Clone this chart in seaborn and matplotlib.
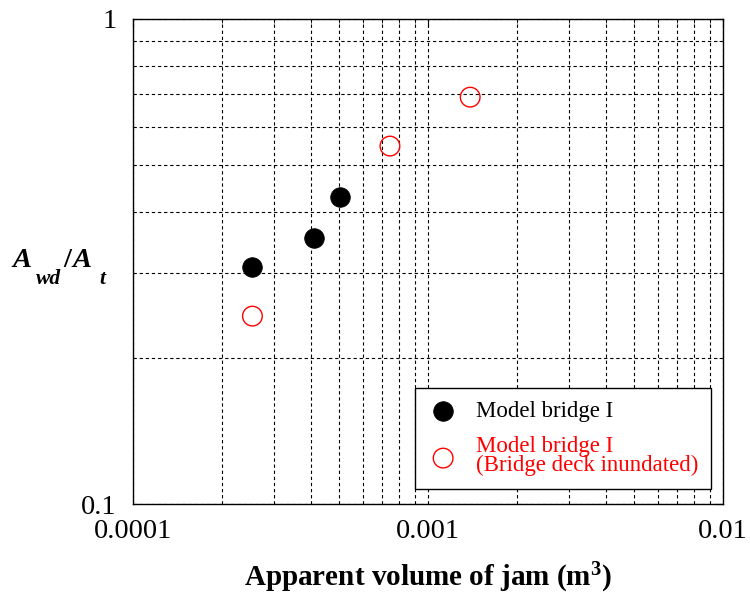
import matplotlib
matplotlib.use("Agg")
import matplotlib.pyplot as plt
import matplotlib.ticker as mticker
import seaborn as sns
import pandas as pd

# Data
black_x = [2.54e-4, 4.10e-4, 5.03e-4]
black_y = [0.308, 0.354, 0.429]
red_x = [2.54e-4, 7.43e-4, 1.39e-3]
red_y = [0.244, 0.547, 0.690]
label_black = "Model bridge I"
label_red = "Model bridge I\n(Bridge deck inundated)"
x_ticks = [1e-4, 1e-3, 1e-2]
x_ticklabels = ["0.0001", "0.001", "0.01"]
y_ticks = [0.1, 1]
y_ticklabels = ["0.1", "1"]
x_label = "Apparent volume of jam (m$^{\\mathbf{3}}$)"
# y label pieces: (text, is_subscript)
y_label_parts = [("A", False), ("wd", True), ("/", False), ("A", False), ("t", True)]

sns.set_theme(style="white")
plt.rcParams['font.family'] = ['Liberation Serif', 'DejaVu Serif']
plt.rcParams['mathtext.fontset'] = 'custom'
plt.rcParams['mathtext.it'] = 'Liberation Serif:bold:italic'
plt.rcParams['mathtext.rm'] = 'Liberation Serif:bold'
plt.rcParams['mathtext.bf'] = 'Liberation Serif:bold'
for k in ['text.color', 'axes.labelcolor', 'xtick.color', 'ytick.color']:
    plt.rcParams[k] = 'black'

W, H = 750, 594
fig = plt.figure(figsize=(7.5, 5.94), dpi=100)
ax = fig.add_axes([133/W, 1-504/H, 590/W, 485/H])

df_b = pd.DataFrame({"x": black_x, "y": black_y})
df_r = pd.DataFrame({"x": red_x, "y": red_y})

sns.scatterplot(data=df_b, x="x", y="y", ax=ax, s=200, color="black",
                edgecolor="black", linewidth=0.5, label=label_black, zorder=3)
sns.scatterplot(data=df_r, x="x", y="y", ax=ax, s=200, facecolor="none",
                edgecolor="#ff0000", linewidth=1.0, label=label_red, zorder=3)

ax.set_xscale("log")
ax.set_yscale("log")
ax.set_xlim(1e-4, 1e-2)
ax.set_ylim(0.1, 1)

ax.xaxis.set_major_locator(mticker.FixedLocator(x_ticks))
ax.xaxis.set_major_formatter(mticker.FixedFormatter(x_ticklabels))
ax.yaxis.set_major_locator(mticker.FixedLocator(y_ticks))
ax.yaxis.set_major_formatter(mticker.FixedFormatter(y_ticklabels))
ax.xaxis.set_minor_locator(mticker.LogLocator(base=10, subs=range(2, 10)))
ax.yaxis.set_minor_locator(mticker.LogLocator(base=10, subs=range(2, 10)))
ax.xaxis.set_minor_formatter(mticker.NullFormatter())
ax.yaxis.set_minor_formatter(mticker.NullFormatter())

ax.grid(True, which="both", color="black", linestyle=(0, (3, 2.5)), linewidth=0.8)
ax.tick_params(which="both", direction="in", top=True, right=True, color="black")
ax.tick_params(which="major", length=6, width=0.8, labelsize=20.5)
ax.tick_params(axis="x", which="major", pad=10.5)
ax.tick_params(axis="y", which="major", pad=12)
ax.tick_params(which="minor", length=3, width=0.6)
for sp in ax.spines.values():
    sp.set_color("black")
    sp.set_linewidth(1.0)

ax.set_xlabel(x_label, fontsize=21, fontweight="bold")
ax.xaxis.set_label_coords(0.5, -0.152)
ax.xaxis.label.set_va("center")
ax.set_ylabel("")

# y label composed of pieces (gnuplot-style enhanced text)
y_label_x = [12, 36, 63, 72, 99]
for (txt, sub), px in zip(y_label_parts, y_label_x):
    by = 284 if sub else 267
    fig.text(px/W, 1-by/H, txt, fontsize=15.5 if sub else 20.5,
             fontweight="bold", fontstyle="normal" if txt == "/" else "italic",
             ha="left", va="baseline", color="black")

leg = ax.legend(loc="lower right", bbox_to_anchor=((711-133)/590, (504-489)/485),
                borderaxespad=0, fontsize=16.5, frameon=True, fancybox=False,
                edgecolor="black", framealpha=1, handlelength=1.35,
                handletextpad=0.76, borderpad=0.55, labelspacing=0.6)
leg.get_frame().set_linewidth(1.0)
for t in leg.get_texts():
    t.set_linespacing(0.9)
    if "inundated" in t.get_text():
        t.set_color("#ff0000")

fig.savefig("out.png", dpi=100)
